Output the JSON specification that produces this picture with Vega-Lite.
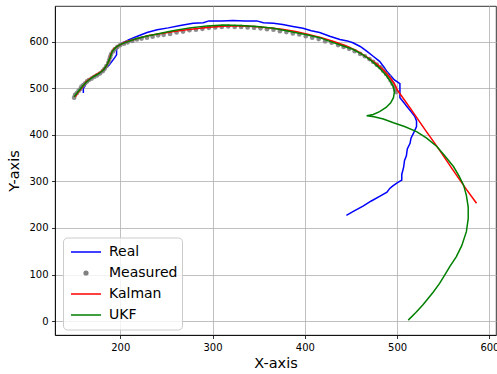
{
 "$schema": "https://vega.github.io/schema/vega-lite/v6.json",
 "width": 441,
 "height": 329,
 "autosize": {"type": "none"},
 "padding": {"left": 55, "top": 6, "right": 1, "bottom": 39},
 "config": {
  "font": "DejaVu Sans",
  "view": {"stroke": "black", "strokeWidth": 0.8},
  "axis": {"grid": true, "gridColor": "#b0b0b0", "gridWidth": 0.8, "gridOpacity": 1, "domainColor": "black", "domainWidth": 0.8, "tickColor": "black", "tickWidth": 0.8, "tickSize": 3.5, "labelFont": "DejaVu Sans", "labelFontSize": 10, "labelColor": "black", "labelPadding": 3.5, "titleFont": "DejaVu Sans", "titleFontSize": 14.5, "titleFontWeight": "normal", "titleColor": "black"}
 },
 "data": {"values": [
  {"s":"Real","i":0,"x":160,"y":490},{"s":"Real","i":1,"x":160,"y":500},{"s":"Real","i":2,"x":162,"y":506},{"s":"Real","i":3,"x":163,"y":514},{"s":"Real","i":4,"x":166,"y":519},{"s":"Real","i":5,"x":170,"y":524},{"s":"Real","i":6,"x":175,"y":529},{"s":"Real","i":7,"x":180,"y":535},{"s":"Real","i":8,"x":184,"y":542},{"s":"Real","i":9,"x":188,"y":550},{"s":"Real","i":10,"x":191,"y":558},{"s":"Real","i":11,"x":194,"y":566},{"s":"Real","i":12,"x":196,"y":572},{"s":"Real","i":13,"x":196,"y":582},{"s":"Real","i":14,"x":197,"y":590},{"s":"Real","i":15,"x":202,"y":597},{"s":"Real","i":16,"x":210,"y":605},{"s":"Real","i":17,"x":220,"y":613},{"s":"Real","i":18,"x":229,"y":620},{"s":"Real","i":19,"x":240,"y":626},{"s":"Real","i":20,"x":252,"y":630},{"s":"Real","i":21,"x":265,"y":635},{"s":"Real","i":22,"x":279,"y":640},{"s":"Real","i":23,"x":290,"y":641},{"s":"Real","i":24,"x":296,"y":645},{"s":"Real","i":25,"x":310,"y":645},{"s":"Real","i":26,"x":322,"y":646},{"s":"Real","i":27,"x":335,"y":645},{"s":"Real","i":28,"x":348,"y":645},{"s":"Real","i":29,"x":355,"y":641},{"s":"Real","i":30,"x":366,"y":640},{"s":"Real","i":31,"x":376,"y":637},{"s":"Real","i":32,"x":387,"y":633},{"s":"Real","i":33,"x":398,"y":629},{"s":"Real","i":34,"x":407,"y":624},{"s":"Real","i":35,"x":416,"y":620},{"s":"Real","i":36,"x":427,"y":612},{"s":"Real","i":37,"x":438,"y":605},{"s":"Real","i":38,"x":446,"y":602},{"s":"Real","i":39,"x":452,"y":598},{"s":"Real","i":40,"x":460,"y":590},{"s":"Real","i":41,"x":467,"y":580},{"s":"Real","i":42,"x":474,"y":569},{"s":"Real","i":43,"x":481,"y":558},{"s":"Real","i":44,"x":486,"y":545},{"s":"Real","i":45,"x":489,"y":536},{"s":"Real","i":46,"x":494,"y":525},{"s":"Real","i":47,"x":497,"y":518},{"s":"Real","i":48,"x":503,"y":510},{"s":"Real","i":49,"x":503,"y":480},{"s":"Real","i":50,"x":507,"y":470},{"s":"Real","i":51,"x":511,"y":460},{"s":"Real","i":52,"x":515,"y":450},{"s":"Real","i":53,"x":519,"y":440},{"s":"Real","i":54,"x":521,"y":430},{"s":"Real","i":55,"x":521,"y":418},{"s":"Real","i":56,"x":518,"y":405},{"s":"Real","i":57,"x":515,"y":393},{"s":"Real","i":58,"x":514,"y":382},{"s":"Real","i":59,"x":511,"y":370},{"s":"Real","i":60,"x":510,"y":355},{"s":"Real","i":61,"x":508,"y":345},{"s":"Real","i":62,"x":507,"y":330},{"s":"Real","i":63,"x":505,"y":315},{"s":"Real","i":64,"x":505,"y":303},{"s":"Real","i":65,"x":500,"y":297},{"s":"Real","i":66,"x":495,"y":290},{"s":"Real","i":67,"x":492,"y":285},{"s":"Real","i":68,"x":489,"y":277},{"s":"Real","i":69,"x":481,"y":268},{"s":"Real","i":70,"x":472,"y":258},{"s":"Real","i":71,"x":463,"y":247},{"s":"Real","i":72,"x":453,"y":236},{"s":"Real","i":73,"x":445,"y":227},
  {"s":"Measured","i":0,"x":150,"y":480},{"s":"Measured","i":1,"x":151,"y":486},{"s":"Measured","i":2,"x":153,"y":490},{"s":"Measured","i":3,"x":155,"y":495},{"s":"Measured","i":4,"x":157,"y":499},{"s":"Measured","i":5,"x":158,"y":504},{"s":"Measured","i":6,"x":160,"y":507},{"s":"Measured","i":7,"x":162,"y":511},{"s":"Measured","i":8,"x":164,"y":515},{"s":"Measured","i":9,"x":166,"y":518},{"s":"Measured","i":10,"x":169,"y":521},{"s":"Measured","i":11,"x":172,"y":525},{"s":"Measured","i":12,"x":175,"y":528},{"s":"Measured","i":13,"x":178,"y":532},{"s":"Measured","i":14,"x":181,"y":537},{"s":"Measured","i":15,"x":183,"y":542},{"s":"Measured","i":16,"x":185,"y":548},{"s":"Measured","i":17,"x":187,"y":555},{"s":"Measured","i":18,"x":188,"y":561},{"s":"Measured","i":19,"x":189,"y":567},{"s":"Measured","i":20,"x":190,"y":573},{"s":"Measured","i":21,"x":192,"y":579},{"s":"Measured","i":22,"x":194,"y":584},{"s":"Measured","i":23,"x":197,"y":589},{"s":"Measured","i":24,"x":200,"y":593},{"s":"Measured","i":25,"x":204,"y":596},{"s":"Measured","i":26,"x":208,"y":599},{"s":"Measured","i":27,"x":213,"y":602},{"s":"Measured","i":28,"x":218,"y":605},{"s":"Measured","i":29,"x":223,"y":607},{"s":"Measured","i":30,"x":229,"y":609},{"s":"Measured","i":31,"x":235,"y":611},{"s":"Measured","i":32,"x":241,"y":614},{"s":"Measured","i":33,"x":247,"y":615},{"s":"Measured","i":34,"x":254,"y":617},{"s":"Measured","i":35,"x":261,"y":620},{"s":"Measured","i":36,"x":268,"y":622},{"s":"Measured","i":37,"x":275,"y":625},{"s":"Measured","i":38,"x":282,"y":626},{"s":"Measured","i":39,"x":289,"y":628},{"s":"Measured","i":40,"x":296,"y":630},{"s":"Measured","i":41,"x":303,"y":631},{"s":"Measured","i":42,"x":310,"y":632},{"s":"Measured","i":43,"x":317,"y":633},{"s":"Measured","i":44,"x":324,"y":632},{"s":"Measured","i":45,"x":331,"y":632},{"s":"Measured","i":46,"x":338,"y":631},{"s":"Measured","i":47,"x":345,"y":630},{"s":"Measured","i":48,"x":352,"y":629},{"s":"Measured","i":49,"x":359,"y":627},{"s":"Measured","i":50,"x":366,"y":626},{"s":"Measured","i":51,"x":373,"y":623},{"s":"Measured","i":52,"x":380,"y":621},{"s":"Measured","i":53,"x":387,"y":618},{"s":"Measured","i":54,"x":394,"y":616},{"s":"Measured","i":55,"x":401,"y":612},{"s":"Measured","i":56,"x":408,"y":609},{"s":"Measured","i":57,"x":415,"y":606},{"s":"Measured","i":58,"x":422,"y":601},{"s":"Measured","i":59,"x":429,"y":598},{"s":"Measured","i":60,"x":436,"y":593},{"s":"Measured","i":61,"x":442,"y":589},{"s":"Measured","i":62,"x":448,"y":585},{"s":"Measured","i":63,"x":454,"y":580},{"s":"Measured","i":64,"x":460,"y":574},{"s":"Measured","i":65,"x":465,"y":569},{"s":"Measured","i":66,"x":470,"y":563},{"s":"Measured","i":67,"x":474,"y":557},{"s":"Measured","i":68,"x":478,"y":551},{"s":"Measured","i":69,"x":482,"y":545},{"s":"Measured","i":70,"x":485,"y":538},{"s":"Measured","i":71,"x":488,"y":531},{"s":"Measured","i":72,"x":491,"y":524},{"s":"Measured","i":73,"x":493,"y":517},{"s":"Measured","i":74,"x":495,"y":510},{"s":"Measured","i":75,"x":497,"y":503},{"s":"Measured","i":76,"x":498,"y":497},{"s":"Measured","i":77,"x":499,"y":492},
  {"s":"Kalman","i":0,"x":151,"y":482},{"s":"Kalman","i":1,"x":155,"y":493},{"s":"Kalman","i":2,"x":159,"y":503},{"s":"Kalman","i":3,"x":163,"y":514},{"s":"Kalman","i":4,"x":168,"y":522},{"s":"Kalman","i":5,"x":174,"y":530},{"s":"Kalman","i":6,"x":180,"y":537},{"s":"Kalman","i":7,"x":185,"y":548},{"s":"Kalman","i":8,"x":188,"y":560},{"s":"Kalman","i":9,"x":190,"y":575},{"s":"Kalman","i":10,"x":193,"y":585},{"s":"Kalman","i":11,"x":198,"y":592},{"s":"Kalman","i":12,"x":205,"y":599},{"s":"Kalman","i":13,"x":213,"y":604},{"s":"Kalman","i":14,"x":222,"y":609},{"s":"Kalman","i":15,"x":232,"y":614},{"s":"Kalman","i":16,"x":245,"y":618},{"s":"Kalman","i":17,"x":258,"y":622},{"s":"Kalman","i":18,"x":272,"y":626},{"s":"Kalman","i":19,"x":286,"y":629},{"s":"Kalman","i":20,"x":300,"y":632},{"s":"Kalman","i":21,"x":315,"y":634},{"s":"Kalman","i":22,"x":330,"y":634},{"s":"Kalman","i":23,"x":345,"y":633},{"s":"Kalman","i":24,"x":360,"y":630},{"s":"Kalman","i":25,"x":375,"y":627},{"s":"Kalman","i":26,"x":390,"y":622},{"s":"Kalman","i":27,"x":404,"y":616},{"s":"Kalman","i":28,"x":418,"y":609},{"s":"Kalman","i":29,"x":432,"y":600},{"s":"Kalman","i":30,"x":445,"y":591},{"s":"Kalman","i":31,"x":457,"y":580},{"s":"Kalman","i":32,"x":468,"y":566},{"s":"Kalman","i":33,"x":478,"y":552},{"s":"Kalman","i":34,"x":486,"y":538},{"s":"Kalman","i":35,"x":492,"y":524},{"s":"Kalman","i":36,"x":497,"y":510},{"s":"Kalman","i":37,"x":500,"y":497},{"s":"Kalman","i":38,"x":514,"y":458},{"s":"Kalman","i":39,"x":530,"y":412},{"s":"Kalman","i":40,"x":545,"y":370},{"s":"Kalman","i":41,"x":560,"y":326},{"s":"Kalman","i":42,"x":575,"y":283},{"s":"Kalman","i":43,"x":586,"y":253},
  {"s":"UKF","i":0,"x":150,"y":482},{"s":"UKF","i":1,"x":154,"y":492},{"s":"UKF","i":2,"x":158,"y":502},{"s":"UKF","i":3,"x":162,"y":511},{"s":"UKF","i":4,"x":166,"y":518},{"s":"UKF","i":5,"x":171,"y":525},{"s":"UKF","i":6,"x":177,"y":532},{"s":"UKF","i":7,"x":182,"y":540},{"s":"UKF","i":8,"x":186,"y":552},{"s":"UKF","i":9,"x":189,"y":566},{"s":"UKF","i":10,"x":191,"y":578},{"s":"UKF","i":11,"x":195,"y":588},{"s":"UKF","i":12,"x":201,"y":595},{"s":"UKF","i":13,"x":209,"y":601},{"s":"UKF","i":14,"x":218,"y":607},{"s":"UKF","i":15,"x":228,"y":612},{"s":"UKF","i":16,"x":240,"y":617},{"s":"UKF","i":17,"x":257,"y":624},{"s":"UKF","i":18,"x":275,"y":630},{"s":"UKF","i":19,"x":294,"y":634},{"s":"UKF","i":20,"x":312,"y":636},{"s":"UKF","i":21,"x":330,"y":635},{"s":"UKF","i":22,"x":348,"y":633},{"s":"UKF","i":23,"x":366,"y":629},{"s":"UKF","i":24,"x":384,"y":622},{"s":"UKF","i":25,"x":402,"y":615},{"s":"UKF","i":26,"x":416,"y":609},{"s":"UKF","i":27,"x":427,"y":601},{"s":"UKF","i":28,"x":440,"y":592},{"s":"UKF","i":29,"x":452,"y":584},{"s":"UKF","i":30,"x":463,"y":572},{"s":"UKF","i":31,"x":473,"y":558},{"s":"UKF","i":32,"x":481,"y":543},{"s":"UKF","i":33,"x":488,"y":528},{"s":"UKF","i":34,"x":493,"y":514},{"s":"UKF","i":35,"x":496,"y":503},{"s":"UKF","i":36,"x":497,"y":492},{"s":"UKF","i":37,"x":496,"y":480},{"s":"UKF","i":38,"x":493,"y":469},{"s":"UKF","i":39,"x":488,"y":459},{"s":"UKF","i":40,"x":481,"y":450},{"s":"UKF","i":41,"x":474,"y":444},{"s":"UKF","i":42,"x":467,"y":441},{"s":"UKF","i":43,"x":475,"y":439},{"s":"UKF","i":44,"x":485,"y":434},{"s":"UKF","i":45,"x":496,"y":426},{"s":"UKF","i":46,"x":508,"y":418},{"s":"UKF","i":47,"x":521,"y":407},{"s":"UKF","i":48,"x":532,"y":393},{"s":"UKF","i":49,"x":543,"y":375},{"s":"UKF","i":50,"x":552,"y":354},{"s":"UKF","i":51,"x":561,"y":332},{"s":"UKF","i":52,"x":567,"y":312},{"s":"UKF","i":53,"x":572,"y":292},{"s":"UKF","i":54,"x":575,"y":270},{"s":"UKF","i":55,"x":577,"y":245},{"s":"UKF","i":56,"x":577,"y":220},{"s":"UKF","i":57,"x":575,"y":192},{"s":"UKF","i":58,"x":570,"y":162},{"s":"UKF","i":59,"x":564,"y":138},{"s":"UKF","i":60,"x":557,"y":117},{"s":"UKF","i":61,"x":551,"y":97},{"s":"UKF","i":62,"x":546,"y":81},{"s":"UKF","i":63,"x":539,"y":62},{"s":"UKF","i":64,"x":528,"y":35},{"s":"UKF","i":65,"x":520,"y":18},{"s":"UKF","i":66,"x":512,"y":2}
 ]},
 "encoding": {
  "x": {"field": "x", "type": "quantitative", "scale": {"domain": [129.3, 607.1], "nice": false, "zero": false}, "axis": {"values": [200, 300, 400, 500, 600], "title": "X-axis", "titlePadding": 4}},
  "y": {"field": "y", "type": "quantitative", "scale": {"domain": [-30, 677], "nice": false, "zero": false}, "axis": {"values": [0, 100, 200, 300, 400, 500, 600], "title": "Y-axis", "titlePadding": 7}},
  "order": {"field": "i", "type": "quantitative"},
  "color": {"field": "s", "type": "nominal",
   "scale": {"domain": ["Real", "Measured", "Kalman", "UKF"], "range": ["#0000ff", "#808080", "#ff0000", "#008000"]},
   "legend": {"title": null, "orient": "none", "legendX": 8, "legendY": 231.5, "padding": 4, "fillColor": "rgba(255,255,255,0.8)", "strokeColor": "#cccccc", "cornerRadius": 4, "labelFont": "DejaVu Sans", "labelFontSize": 14, "labelColor": "black", "labelOffset": 7, "symbolSize": 400, "symbolOffset": 3, "symbolStrokeWidth": 1.5, "rowPadding": 0, "clipHeight": 21,
    "encode": {"symbols": {"update": {
     "shape": {"signal": "datum.value === 'Measured' ? 'circle' : 'stroke'"},
     "size": {"signal": "datum.value === 'Measured' ? 14 : 900"},
     "fill": {"signal": "datum.value === 'Measured' ? '#808080' : 'transparent'"},
     "stroke": {"signal": "datum.value === 'Measured' ? 'transparent' : scale('color', datum.value)"},
     "strokeWidth": {"value": 1.5},
     "opacity": {"value": 1}
    }}}
   }
  }
 },
 "layer": [
  {"transform": [{"filter": "datum.s === 'Real'"}], "mark": {"type": "line", "strokeWidth": 1.5, "clip": true}},
  {"transform": [{"filter": "datum.s === 'Measured'"}], "mark": {"type": "point", "filled": true, "size": 22, "opacity": 0.9, "clip": true}},
  {"transform": [{"filter": "datum.s === 'Kalman'"}], "mark": {"type": "line", "strokeWidth": 1.5, "clip": true}},
  {"transform": [{"filter": "datum.s === 'UKF'"}], "mark": {"type": "line", "strokeWidth": 1.5, "clip": true}}
 ]
}
